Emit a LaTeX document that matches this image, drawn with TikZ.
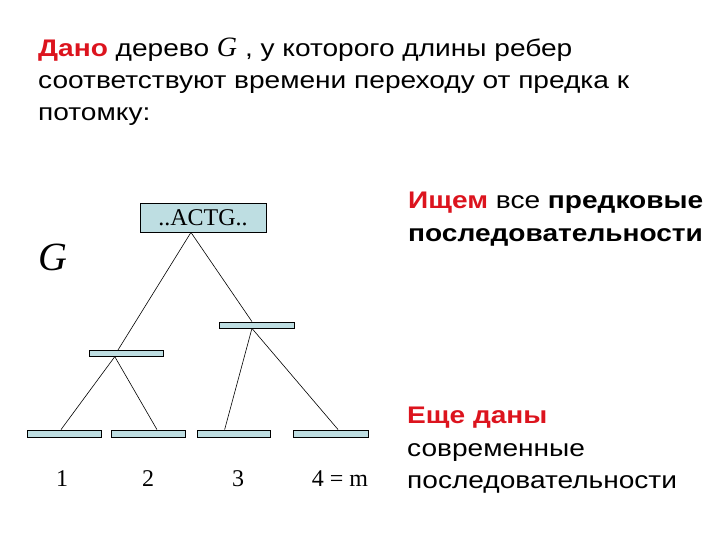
\documentclass[tikz,border=0pt]{standalone}
\usepackage{fontspec}
\setmainfont{Liberation Sans}[FakeStretch=1.17]
\newfontfamily\tms{Liberation Serif}
\usetikzlibrary{calc}
\definecolor{keyred}{RGB}{220,20,30}
\definecolor{barfill}{RGB}{190,222,226}

\begin{document}
\begin{tikzpicture}[x=1pt, y=-1pt,
    bar/.style={draw, fill=barfill, line width=0.8pt, inner sep=0pt, minimum height=6pt},
    txt/.style={anchor=base west, inner sep=0pt, font=\fontsize{24}{28}\selectfont},
    lab/.style={anchor=base, inner sep=0pt, font=\tms\fontsize{24}{28}\selectfont},
    edge/.style={line width=0.6pt}]
  \useasboundingbox (0, 0) rectangle (720, 540);

  % header
  \node [txt] (head1) at (38, 57) {\textcolor{keyred}{\bfseries Дано} дерево {\tms\itshape\fontsize{28}{28}\selectfont G} , у которого длины ребер};
  \node [txt] (head2) at (38, 89) {соответствуют времени переходу от предка к};
  \node [txt] (head3) at (38, 121) {потомку:};

  \node [lab, font=\tms\itshape\fontsize{40}{44}\selectfont] (G) at (53, 270) {G};

  % tree
  \node [bar, minimum width=126pt, minimum height=29pt, font=\tms\fontsize{24}{28}\selectfont] (root) at (203, 217.5) {..ACTG..};
  \node [bar, minimum width=74pt, minimum height=5.5pt] (inL) at (126, 353.5) {};
  \node [bar, minimum width=75pt] (inR) at (256.5, 325) {};

  \node [bar, minimum width=74pt, minimum height=7pt] (leafA) at (64, 433.5) {};
  \node [bar, minimum width=74pt, minimum height=7pt] (leafB) at (148, 433.5) {};
  \node [bar, minimum width=73pt, minimum height=7pt] (leafC) at (233.5, 433.5) {};
  \node [bar, minimum width=75pt, minimum height=7pt] (leafD) at (330.5, 433.5) {};

  \draw [edge] ($(root.south west)!.405!(root.south east)$) -- ($(inL.north west)!.39!(inL.north east)$);
  \draw [edge] ($(root.south west)!.405!(root.south east)$) -- ($(inR.north west)!.44!(inR.north east)$);

  \draw [edge] ($(inL.south west)!.35!(inL.south east)$) -- ($(leafA.north west)!.46!(leafA.north east)$);
  \draw [edge] ($(inL.south west)!.35!(inL.south east)$) -- ($(leafB.north west)!.62!(leafB.north east)$);
  \draw [edge] ($(inR.south west)!.44!(inR.south east)$) -- ($(leafC.north west)!.38!(leafC.north east)$);
  \draw [edge] ($(inR.south west)!.44!(inR.south east)$) -- ($(leafD.north west)!.6!(leafD.north east)$);

  \node [lab] (num1) at (62, 486) {1};
  \node [lab] (num2) at (148, 486) {2};
  \node [lab] (num3) at (238, 486) {3};
  \node [lab] (num4) at (340, 486) {4 = m};

  % right side
  \node [txt] (find1) at (408, 208) {\textcolor{keyred}{\bfseries Ищем} все \textbf{предковые}};
  \node [txt] (find2) at (408, 241) {\bfseries последовательности};

  \node [txt] (given1) at (407, 423) {\textcolor{keyred}{\bfseries Еще даны}};
  \node [txt] (given2) at (407, 456) {современные};
  \node [txt] (given3) at (407, 488) {последовательности};
\end{tikzpicture}
\end{document}
